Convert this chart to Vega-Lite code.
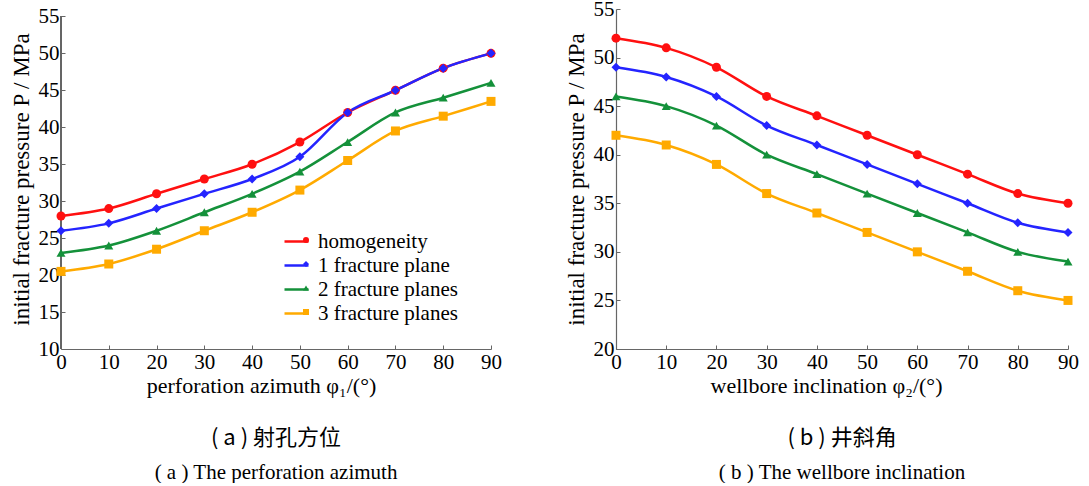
{
  "$schema": "https://vega.github.io/schema/vega-lite/v6.json",
  "background": "white",
  "padding": {"left": 10, "top": -2, "right": 0, "bottom": 0},
  "datasets": {
    "a": [
      {"x": 0, "p": 28, "series": "homogeneity"},
      {"x": 10, "p": 29, "series": "homogeneity"},
      {"x": 20, "p": 31, "series": "homogeneity"},
      {"x": 30, "p": 33, "series": "homogeneity"},
      {"x": 40, "p": 35, "series": "homogeneity"},
      {"x": 50, "p": 38, "series": "homogeneity"},
      {"x": 60, "p": 42, "series": "homogeneity"},
      {"x": 70, "p": 45, "series": "homogeneity"},
      {"x": 80, "p": 48, "series": "homogeneity"},
      {"x": 90, "p": 50, "series": "homogeneity"},
      {"x": 0, "p": 26, "series": "1 fracture plane"},
      {"x": 10, "p": 27, "series": "1 fracture plane"},
      {"x": 20, "p": 29, "series": "1 fracture plane"},
      {"x": 30, "p": 31, "series": "1 fracture plane"},
      {"x": 40, "p": 33, "series": "1 fracture plane"},
      {"x": 50, "p": 36, "series": "1 fracture plane"},
      {"x": 60, "p": 42, "series": "1 fracture plane"},
      {"x": 70, "p": 45, "series": "1 fracture plane"},
      {"x": 80, "p": 48, "series": "1 fracture plane"},
      {"x": 90, "p": 50, "series": "1 fracture plane"},
      {"x": 0, "p": 23, "series": "2 fracture planes"},
      {"x": 10, "p": 24, "series": "2 fracture planes"},
      {"x": 20, "p": 26, "series": "2 fracture planes"},
      {"x": 30, "p": 28.5, "series": "2 fracture planes"},
      {"x": 40, "p": 31, "series": "2 fracture planes"},
      {"x": 50, "p": 34, "series": "2 fracture planes"},
      {"x": 60, "p": 38, "series": "2 fracture planes"},
      {"x": 70, "p": 42, "series": "2 fracture planes"},
      {"x": 80, "p": 44, "series": "2 fracture planes"},
      {"x": 90, "p": 46, "series": "2 fracture planes"},
      {"x": 0, "p": 20.5, "series": "3 fracture planes"},
      {"x": 10, "p": 21.5, "series": "3 fracture planes"},
      {"x": 20, "p": 23.5, "series": "3 fracture planes"},
      {"x": 30, "p": 26, "series": "3 fracture planes"},
      {"x": 40, "p": 28.5, "series": "3 fracture planes"},
      {"x": 50, "p": 31.5, "series": "3 fracture planes"},
      {"x": 60, "p": 35.5, "series": "3 fracture planes"},
      {"x": 70, "p": 39.5, "series": "3 fracture planes"},
      {"x": 80, "p": 41.5, "series": "3 fracture planes"},
      {"x": 90, "p": 43.5, "series": "3 fracture planes"}
    ],
    "b": [
      {"x": 0, "p": 52, "series": "homogeneity"},
      {"x": 10, "p": 51, "series": "homogeneity"},
      {"x": 20, "p": 49, "series": "homogeneity"},
      {"x": 30, "p": 46, "series": "homogeneity"},
      {"x": 40, "p": 44, "series": "homogeneity"},
      {"x": 50, "p": 42, "series": "homogeneity"},
      {"x": 60, "p": 40, "series": "homogeneity"},
      {"x": 70, "p": 38, "series": "homogeneity"},
      {"x": 80, "p": 36, "series": "homogeneity"},
      {"x": 90, "p": 35, "series": "homogeneity"},
      {"x": 0, "p": 49, "series": "1 fracture plane"},
      {"x": 10, "p": 48, "series": "1 fracture plane"},
      {"x": 20, "p": 46, "series": "1 fracture plane"},
      {"x": 30, "p": 43, "series": "1 fracture plane"},
      {"x": 40, "p": 41, "series": "1 fracture plane"},
      {"x": 50, "p": 39, "series": "1 fracture plane"},
      {"x": 60, "p": 37, "series": "1 fracture plane"},
      {"x": 70, "p": 35, "series": "1 fracture plane"},
      {"x": 80, "p": 33, "series": "1 fracture plane"},
      {"x": 90, "p": 32, "series": "1 fracture plane"},
      {"x": 0, "p": 46, "series": "2 fracture planes"},
      {"x": 10, "p": 45, "series": "2 fracture planes"},
      {"x": 20, "p": 43, "series": "2 fracture planes"},
      {"x": 30, "p": 40, "series": "2 fracture planes"},
      {"x": 40, "p": 38, "series": "2 fracture planes"},
      {"x": 50, "p": 36, "series": "2 fracture planes"},
      {"x": 60, "p": 34, "series": "2 fracture planes"},
      {"x": 70, "p": 32, "series": "2 fracture planes"},
      {"x": 80, "p": 30, "series": "2 fracture planes"},
      {"x": 90, "p": 29, "series": "2 fracture planes"},
      {"x": 0, "p": 42, "series": "3 fracture planes"},
      {"x": 10, "p": 41, "series": "3 fracture planes"},
      {"x": 20, "p": 39, "series": "3 fracture planes"},
      {"x": 30, "p": 36, "series": "3 fracture planes"},
      {"x": 40, "p": 34, "series": "3 fracture planes"},
      {"x": 50, "p": 32, "series": "3 fracture planes"},
      {"x": 60, "p": 30, "series": "3 fracture planes"},
      {"x": 70, "p": 28, "series": "3 fracture planes"},
      {"x": 80, "p": 26, "series": "3 fracture planes"},
      {"x": 90, "p": 25, "series": "3 fracture planes"}
    ]
  },
  "config": {
    "view": {"stroke": null},
    "font": "Liberation Serif",
    "concat": {"spacing": 63},
    "axis": {
      "grid": false,
      "domainColor": "#666666",
      "domainWidth": 1.2,
      "tickColor": "#666666",
      "tickSize": -4,
      "labelFont": "Liberation Serif",
      "labelFontSize": 21,
      "labelColor": "#000000",
      "labelFlush": false,
      "labelOverlap": false,
      "titleFont": "Liberation Serif",
      "titleFontSize": 22,
      "titleFontWeight": "normal",
      "titleColor": "#000000"
    },
    "legend": {
      "orient": "none",
      "title": null,
      "labelFont": "Liberation Serif",
      "labelFontSize": 21,
      "labelColor": "#000000",
      "rowPadding": 0,
      "labelLimit": 300
    },
    "title": {
      "orient": "bottom",
      "anchor": "middle",
      "font": "Noto Sans CJK SC",
      "fontSize": 22,
      "fontWeight": "normal",
      "color": "#000000",
      "subtitleFont": "Liberation Serif",
      "subtitleFontSize": 21,
      "subtitleColor": "#000000",
      "offset": 32,
      "subtitlePadding": 12
    }
  },
  "hconcat": [
    {
      "width": 430,
      "height": 340,
      "title": {"text": "( a ) 射孔方位\u00a0\u00a0\u00a0\u00a0\u00a0\u00a0", "subtitle": "( a ) The perforation azimuth", "orient": "bottom"},
      "data": {"name": "a"},
      "encoding": {
        "x": {"field": "x", "type": "quantitative", "scale": {"domain": [0, 90], "nice": false},
          "axis": {"values": [0, 10, 20, 30, 40, 50, 60, 70, 80, 90], "title": "perforation azimuth φ₁/(°)", "titleX": 200, "labelPadding": 6, "titlePadding": 3}},
        "y": {"field": "p", "type": "quantitative", "scale": {"domain": [10, 56], "nice": false, "zero": false},
          "axis": {"values": [10, 15, 20, 25, 30, 35, 40, 45, 50, 55], "domain": false, "title": "initial fracture pressure P / MPa", "titleFontSize": 23, "labelPadding": 6, "titlePadding": 5}}
      },
      "layer": [
        {
          "mark": {"type": "rule", "color": "#666666", "strokeWidth": 1.2},
          "encoding": {"x": {"datum": 0}, "y": {"datum": 10}, "y2": {"datum": 55}}
        },
        {
          "mark": {"type": "line", "interpolate": "monotone", "strokeWidth": 2.5},
          "encoding": {
            "stroke": {"field": "series", "type": "nominal",
              "sort": ["homogeneity", "1 fracture plane", "2 fracture planes", "3 fracture planes"],
              "scale": {"range": ["#ff1010", "#2424ff", "#14913a", "#ffaa00"]},
              "legend": {"symbolType": "stroke", "symbolSize": 576, "symbolStrokeWidth": 2.5, "labelOffset": 8, "legendX": 222, "legendY": 219}}
          }
        },
        {
          "mark": {"type": "point", "filled": true, "opacity": 1, "size": 81},
          "encoding": {
            "color": {"field": "series", "type": "nominal",
              "scale": {"domain": ["homogeneity", "1 fracture plane", "2 fracture planes", "3 fracture planes"], "range": ["#ff1010", "#2424ff", "#14913a", "#ffaa00"]},
              "legend": {"symbolSize": 36, "labelOpacity": 0, "labelFontSize": 24, "labelOffset": 24, "legendX": 233, "legendY": 219}},
            "shape": {"field": "series", "type": "nominal",
              "scale": {"domain": ["homogeneity", "1 fracture plane", "2 fracture planes", "3 fracture planes"], "range": ["circle", "diamond", "triangle-up", "square"]},
              "legend": {"symbolSize": 36, "labelOpacity": 0, "labelFontSize": 24, "labelOffset": 24, "legendX": 233, "legendY": 219}}
          }
        }
      ]
    },
    {
      "width": 452,
      "height": 340,
      "title": {"text": "( b ) 井斜角\u00a0\u00a0", "subtitle": "( b ) The wellbore inclination", "orient": "bottom"},
      "data": {"name": "b"},
      "encoding": {
        "x": {"field": "x", "type": "quantitative", "scale": {"domain": [0, 90], "nice": false},
          "axis": {"values": [0, 10, 20, 30, 40, 50, 60, 70, 80, 90], "title": "wellbore inclination φ₂/(°)", "titleX": 210, "labelPadding": 6, "titlePadding": 3}},
        "y": {"field": "p", "type": "quantitative", "scale": {"domain": [20, 55], "nice": false, "zero": false},
          "axis": {"values": [20, 25, 30, 35, 40, 45, 50, 55], "title": "initial fracture pressure P / MPa", "titleFontSize": 23, "labelPadding": 6, "titlePadding": 5}}
      },
      "layer": [
        {
          "mark": {"type": "line", "interpolate": "monotone", "strokeWidth": 2.5},
          "encoding": {
            "stroke": {"field": "series", "type": "nominal",
              "sort": ["homogeneity", "1 fracture plane", "2 fracture planes", "3 fracture planes"],
              "scale": {"range": ["#ff1010", "#2424ff", "#14913a", "#ffaa00"]},
              "legend": {"symbolType": "stroke", "symbolSize": 576, "symbolStrokeWidth": 2.5, "labelOffset": 8, "legendX": 37, "legendY": 219}}
          }
        },
        {
          "mark": {"type": "point", "filled": true, "opacity": 1, "size": 81},
          "encoding": {
            "color": {"field": "series", "type": "nominal",
              "scale": {"domain": ["homogeneity", "1 fracture plane", "2 fracture planes", "3 fracture planes"], "range": ["#ff1010", "#2424ff", "#14913a", "#ffaa00"]},
              "legend": {"symbolSize": 36, "labelOpacity": 0, "labelFontSize": 24, "labelOffset": 24, "legendX": 48, "legendY": 219}},
            "shape": {"field": "series", "type": "nominal",
              "scale": {"domain": ["homogeneity", "1 fracture plane", "2 fracture planes", "3 fracture planes"], "range": ["circle", "diamond", "triangle-up", "square"]},
              "legend": {"symbolSize": 36, "labelOpacity": 0, "labelFontSize": 24, "labelOffset": 24, "legendX": 48, "legendY": 219}}
          }
        }
      ]
    }
  ]
}
